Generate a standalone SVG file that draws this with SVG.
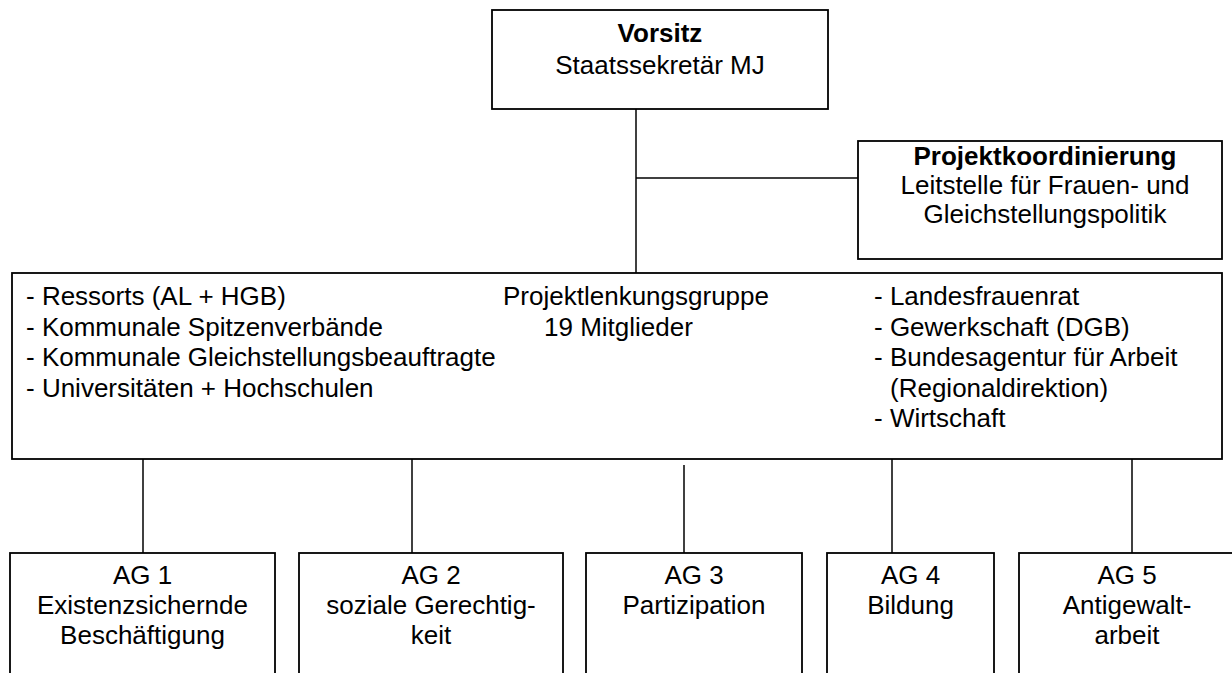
<svg xmlns="http://www.w3.org/2000/svg" width="1232" height="673" viewBox="0 0 1232 673">
<style>
  .box { fill: #ffffff; stroke: #000000; stroke-width: 1.8; }
  .conn { stroke: #000000; stroke-width: 1.5; fill: none; }
  text { font-family: "Liberation Sans", Arial, sans-serif; font-size: 26px; fill: #000000; }
  .b { font-weight: bold; }
  .c { text-anchor: middle; }
</style>
<rect x="0" y="0" width="1232" height="673" fill="#ffffff"/>
<g id="connectors">
  <line class="conn" x1="636" y1="109" x2="636" y2="273"/>
  <line class="conn" x1="636" y1="178" x2="876" y2="178"/>
  <line class="conn" x1="143" y1="459" x2="143" y2="553"/>
  <line class="conn" x1="412" y1="459" x2="412" y2="553"/>
  <line class="conn" x1="684" y1="465" x2="684" y2="562"/>
  <line class="conn" x1="892" y1="459" x2="892" y2="553"/>
  <line class="conn" x1="1132" y1="459" x2="1132" y2="553"/>
</g>
<g id="vorsitz">
  <rect class="box" x="492" y="10" width="336" height="99"/>
  <text class="b c" x="660" y="42">Vorsitz</text>
  <text class="c" x="660" y="74">Staatssekretär MJ</text>
</g>
<g id="projektkoordinierung">
  <rect class="box" x="858" y="141" width="364" height="118"/>
  <text class="b c" x="1045" y="165">Projektkoordinierung</text>
  <text class="c" x="1045" y="194">Leitstelle für Frauen- und</text>
  <text class="c" x="1045" y="223">Gleichstellungspolitik</text>
</g>
<g id="projektlenkungsgruppe">
  <rect class="box" x="12" y="273" width="1210" height="186"/>
  <text x="26" y="305">- Ressorts (AL + HGB)</text>
  <text x="26" y="335.5">- Kommunale Spitzenverbände</text>
  <text x="26" y="366">- Kommunale Gleichstellungsbeauftragte</text>
  <text x="26" y="396.5">- Universitäten + Hochschulen</text>
  <text class="c" x="636" y="305">Projektlenkungsgruppe</text>
  <text x="544" y="335.5">19 Mitglieder</text>
  <text x="874" y="305">- Landesfrauenrat</text>
  <text x="874" y="335.5">- Gewerkschaft (DGB)</text>
  <text x="874" y="366">- Bundesagentur für Arbeit</text>
  <text x="890" y="396.5">(Regionaldirektion)</text>
  <text x="874" y="427">- Wirtschaft</text>
</g>
<g id="ag1">
  <rect class="box" x="10" y="553" width="265" height="140"/>
  <text class="c" x="142.5" y="584">AG 1</text>
  <text class="c" x="142.5" y="614">Existenzsichernde</text>
  <text class="c" x="142.5" y="644">Beschäftigung</text>
</g>
<g id="ag2">
  <rect class="box" x="299" y="553" width="264" height="140"/>
  <text class="c" x="431" y="584">AG 2</text>
  <text class="c" x="431" y="614">soziale Gerechtig-</text>
  <text class="c" x="431" y="644">keit</text>
</g>
<g id="ag3">
  <rect class="box" x="586" y="553" width="216" height="140"/>
  <text class="c" x="694" y="584">AG 3</text>
  <text class="c" x="694" y="614">Partizipation</text>
</g>
<g id="ag4">
  <rect class="box" x="827" y="553" width="167" height="140"/>
  <text class="c" x="910.5" y="584">AG 4</text>
  <text class="c" x="910.5" y="614">Bildung</text>
</g>
<g id="ag5">
  <rect class="box" x="1019" y="553" width="220" height="140"/>
  <text class="c" x="1127" y="584">AG 5</text>
  <text class="c" x="1127" y="614">Antigewalt-</text>
  <text class="c" x="1127" y="644">arbeit</text>
</g>
</svg>
